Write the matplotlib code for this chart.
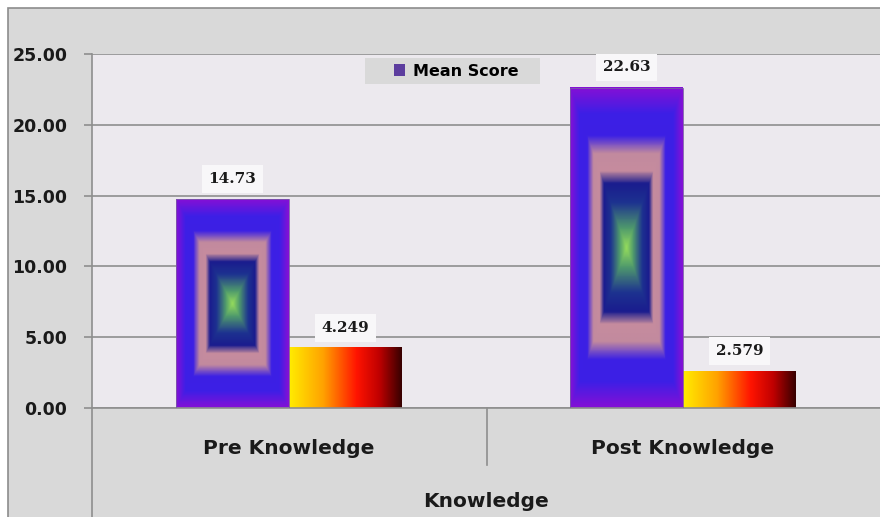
import numpy as np
import matplotlib
matplotlib.use('Agg')
import matplotlib.pyplot as plt
from matplotlib.colors import LinearSegmentedColormap
from matplotlib.patches import Patch, Rectangle
from matplotlib.lines import Line2D

categories = ['Pre Knowledge', 'Post Knowledge']
mean_score = [14.73, 22.63]
sd_score = [4.249, 2.579]
y_ticks = [0, 5, 10, 15, 20, 25]

# colour ramps for the two fills
purple_cmap = LinearSegmentedColormap.from_list('rect', [
    (0.0, '#95dc5c'), (0.12, '#4f9a6c'), (0.28, '#1d3290'), (0.40, '#1a1c8e'),
    (0.48, '#c68c9e'), (0.59, '#c28a9e'), (0.70, '#3c20e4'), (0.84, '#3d1fe6'),
    (1.0, '#8410d6')])
orange_cmap = LinearSegmentedColormap.from_list('lin', [
    (0.0, '#ffec00'), (0.3, '#ffa200'), (0.6, '#ff1400'), (0.8, '#c00000'),
    (1.0, '#380000')])

fig = plt.figure(figsize=(8.8, 5.17), dpi=100, facecolor='white')
# chart area background with frame
fig.add_artist(Rectangle((8 / 880, -0.01), 1, 1 - 8 / 517 + 0.01, transform=fig.transFigure,
                         facecolor='#d9d9d9', edgecolor='#8c8c8c', lw=1.2, zorder=0))

ax = fig.add_axes([92 / 880, 109 / 517, 1 - 92 / 880, 354 / 517])
ax.set_facecolor('#ece9ee')

x = np.arange(len(categories))
w = 0.2866
b1 = ax.bar(x - w / 2, mean_score, w, facecolor='none', edgecolor='none')
b2 = ax.bar(x + w / 2, sd_score, w, facecolor='none', edgecolor='none')

# rectangular "from centre" gradient for the mean bars
u = np.linspace(-1, 1, 120)
v = np.linspace(-1, 1, 240)
U, V = np.meshgrid(u, v)
rect_grad = np.maximum(np.abs(U), np.abs(V))
lin_grad = np.tile(np.linspace(0, 1, 200), (10, 1))

for p in b1:
    x0, y0 = p.get_x(), p.get_y()
    ax.imshow(rect_grad, cmap=purple_cmap, vmin=0, vmax=1, aspect='auto',
              extent=(x0, x0 + p.get_width(), y0, y0 + p.get_height()),
              interpolation='bilinear', zorder=2)
    ax.add_patch(Rectangle((x0, y0), p.get_width(), p.get_height(), fill=False,
                           edgecolor='#7a5aa8', lw=0.6, zorder=3))
for p in b2:
    x0, y0 = p.get_x(), p.get_y()
    ax.imshow(lin_grad, cmap=orange_cmap, vmin=0, vmax=1, aspect='auto',
              extent=(x0, x0 + p.get_width(), y0, y0 + p.get_height()),
              interpolation='bilinear', zorder=2)

for bars, vals in [(b1, mean_score), (b2, sd_score)]:
    for p, val in zip(bars, vals):
        ax.annotate(f'{val:g}', (p.get_x() + p.get_width() / 2, p.get_height()),
                    xytext=(0, 14.5), textcoords='offset points', ha='center', va='center',
                    fontsize=11, fontweight='bold', family='DejaVu Serif', color='#1a1a1a',
                    bbox=dict(boxstyle='square,pad=0.45', facecolor='#f8f7f9', edgecolor='none'),
                    zorder=4)

ax.set_xlim(-0.5, 1.5)
ax.set_ylim(0, 25)
ax.set_yticks(y_ticks)
ax.set_yticklabels([f'{t:.2f}' for t in y_ticks])
ax.set_xticks(x)
ax.set_xticklabels(categories)
ax.yaxis.grid(True, color='#8e8e8e', lw=1.2, zorder=1)
ax.set_axisbelow(True)
ax.tick_params(axis='y', length=5.8, width=1.2, color='#8e8e8e', pad=12,
               labelsize=12.5, labelcolor='#1a1a1a')
ax.tick_params(axis='x', length=0, pad=22, labelsize=14.5, labelcolor='#1a1a1a')
for lab in ax.get_yticklabels() + ax.get_xticklabels():
    lab.set_fontweight('bold')
ax.set_xlabel('Knowledge', fontsize=14.5, fontweight='bold', color='#1a1a1a', labelpad=25)
for s in ['top', 'right']:
    ax.spines[s].set_visible(False)
for s in ['left', 'bottom']:
    ax.spines[s].set_color('#8e8e8e')
    ax.spines[s].set_linewidth(1.2)

# category separators below the axis
fig.add_artist(Line2D([92 / 880, 92 / 880], [0, 109 / 517], color='#8e8e8e', lw=1.2))
fig.add_artist(Line2D([487 / 880, 487 / 880], [52 / 517, 109 / 517], color='#8e8e8e', lw=1.2))

# legend
fig.add_artist(Rectangle((365 / 880, 1 - 84 / 517), 175 / 880, 26 / 517,
                         transform=fig.transFigure, facecolor='#d9d9d9', edgecolor='none', zorder=5))
leg = fig.legend(handles=[Patch(facecolor='#5c3d9e')], labels=['Mean Score'],
                 loc='center', bbox_to_anchor=(456 / 880, 1 - 71 / 517), frameon=False,
                 handlelength=0.7, handleheight=0.7, handletextpad=0.5,
                 prop={'size': 11.5, 'weight': 'bold'})
leg.set_zorder(6)

fig.savefig('out.png', dpi=100, facecolor='white')
